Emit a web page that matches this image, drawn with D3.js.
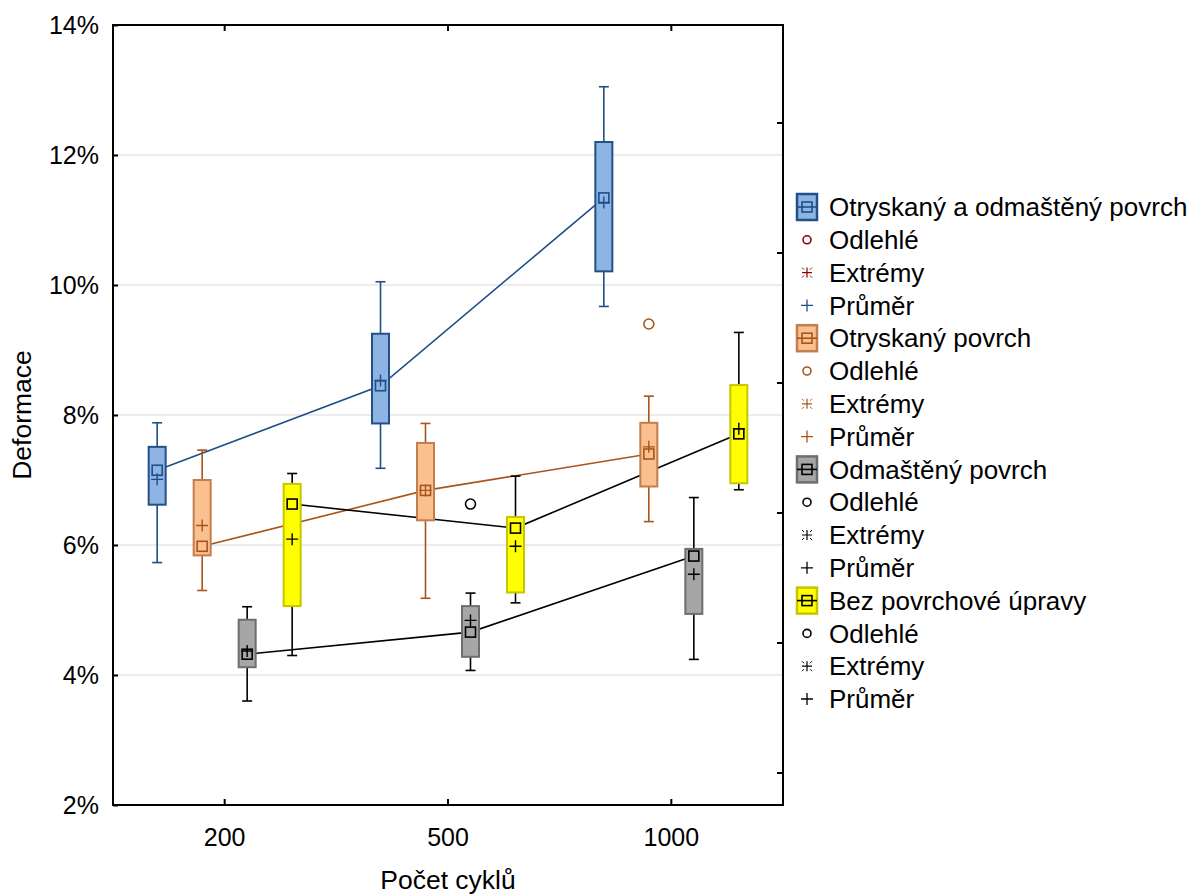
<!DOCTYPE html>
<html>
<head>
<meta charset="utf-8">
<script src="https://cdn.jsdelivr.net/npm/d3@7"></script>
<style>
  body { margin: 0; background: #fff; }
  svg { font-family: "Liberation Sans", Arial, sans-serif; }
  .tick-label { font-size: 25px; }
  .legend text { font-size: 26px; }
</style>
</head>
<body>
<script>
const categories = ['200', '500', '1000'];
const series = ['Otryskaný a odmaštěný povrch', 'Otryskaný povrch', 'Odmaštěný povrch', 'Bez povrchové úpravy'];

// rows = series, columns = categories (values in %)
const whiskerLow = [
  [5.73, 7.18, 9.67],
  [5.30, 5.18, 6.36],
  [3.60, 4.07, 4.24],
  [4.30, 5.11, 6.85]
];
const boxLow = [
  [6.62, 7.87, 10.21],
  [5.84, 6.38, 6.90],
  [4.12, 4.28, 4.94],
  [5.06, 5.27, 6.95]
];
const medians = [
  [7.15, 8.45, 11.34],
  [5.98, 6.84, 7.40],
  [4.32, 4.66, 5.83],
  [6.63, 6.26, 7.71]
];
const boxHigh = [
  [7.51, 9.25, 12.20],
  [7.00, 7.57, 7.88],
  [4.85, 5.06, 5.94],
  [6.94, 6.43, 8.46]
];
const whiskerHigh = [
  [7.88, 10.05, 13.05],
  [7.46, 7.87, 8.29],
  [5.05, 5.26, 6.73],
  [7.10, 7.06, 9.27]
];
const means = [
  [7.01, 8.53, 11.27],
  [6.30, 6.84, 7.51],
  [4.37, 4.84, 5.55],
  [6.09, 5.98, 7.79]
];
const outlierSeries = [1, 2];
const outlierCats = ['1000', '500'];
const outlierValues = [9.40, 6.63];

const yTicks = [2, 4, 6, 8, 10, 12, 14];
const rightTicks = [2.5, 4.5, 6.5, 8.5, 10.5, 12.5];

const fills = ['#8DB4E2', '#FAC08F', '#A6A6A6', '#FFFF00'];
const strokes = ['#24508A', '#C27E4C', '#6E6E6E', '#C6C600'];
const lineCols = ['#1F4E89', '#A9541A', '#000000', '#000000'];
const outCols = ['#8B0000', '#A9541A', '#000000', '#000000'];

const width = 1191, height = 895;
const mLeft = 113, mRight = 783, mTop = 25, mBottom = 805;

const svg = d3.select('body').append('svg')
  .attr('width', width)
  .attr('height', height);

const x = d3.scaleBand().domain(categories).range([mLeft, mRight]);
const xs = d3.scalePoint().domain(d3.range(series.length)).range([-67.5, 67.5]);
const y = d3.scaleLinear().domain([2, 14]).range([mBottom, mTop]);
const cx = (s, c) => x(categories[c]) + x.bandwidth() / 2 + xs(s);

// gridlines
svg.append('g')
  .selectAll('line')
  .data(yTicks.filter(d => d > 2 && d < 14))
  .enter().append('line')
  .attr('x1', mLeft).attr('x2', mRight)
  .attr('y1', d => y(d)).attr('y2', d => y(d))
  .attr('stroke', '#d9d9d9').attr('stroke-width', 1);

// axes
const yAxis = d3.axisRight(y).tickValues(yTicks).tickSize(5).tickFormat('');
svg.append('g').attr('transform', 'translate(' + mLeft + ',0)').call(yAxis)
  .call(g => g.select('.domain').remove())
  .selectAll('line').attr('stroke', '#000').attr('stroke-width', 2);

svg.append('g').attr('class', 'tick-label')
  .selectAll('text')
  .data(yTicks)
  .enter().append('text')
  .attr('x', mLeft - 14)
  .attr('y', d => y(d))
  .attr('dy', '0.35em')
  .attr('text-anchor', 'end')
  .text(d => d + '%');

const rAxis = d3.axisLeft(y).tickValues(rightTicks).tickSize(6).tickFormat('');
svg.append('g').attr('transform', 'translate(' + mRight + ',0)').call(rAxis)
  .call(g => g.select('.domain').remove())
  .selectAll('line').attr('stroke', '#000').attr('stroke-width', 2);

const xb = d3.axisTop(x).tickSize(6).tickFormat('');
svg.append('g').attr('transform', 'translate(0,' + mBottom + ')').call(xb)
  .call(g => g.select('.domain').remove())
  .selectAll('line').attr('stroke', '#000').attr('stroke-width', 2);
const xt = d3.axisBottom(x).tickSize(6).tickFormat('');
svg.append('g').attr('transform', 'translate(0,' + mTop + ')').call(xt)
  .call(g => g.select('.domain').remove())
  .selectAll('line').attr('stroke', '#000').attr('stroke-width', 2);

svg.append('g').attr('class', 'tick-label')
  .selectAll('text')
  .data(categories)
  .enter().append('text')
  .attr('x', d => x(d) + x.bandwidth() / 2)
  .attr('y', mBottom + 32)
  .attr('dy', '0.35em')
  .attr('text-anchor', 'middle')
  .text(d => d);

svg.append('rect')
  .attr('x', mLeft).attr('y', mTop)
  .attr('width', mRight - mLeft).attr('height', mBottom - mTop)
  .attr('fill', 'none').attr('stroke', '#000').attr('stroke-width', 2);

svg.append('text')
  .attr('x', (mLeft + mRight) / 2)
  .attr('y', 889)
  .attr('text-anchor', 'middle')
  .style('font-size', '26.5px')
  .text('Počet cyklů');

svg.append('text')
  .attr('transform', 'rotate(-90)')
  .attr('x', -415)
  .attr('y', 31)
  .attr('text-anchor', 'middle')
  .style('font-size', '26.5px')
  .text('Deformace');

// median lines
series.forEach((name, s) => {
  const line = d3.line()
    .x((d, c) => cx(s, c))
    .y(d => y(d));
  svg.append('path')
    .datum(medians[s])
    .attr('d', line)
    .attr('fill', 'none')
    .attr('stroke', lineCols[s])
    .attr('stroke-width', 1.6);
});

function plusPath(px, py, r) {
  return 'M' + (px - r) + ',' + py + 'H' + (px + r) + 'M' + px + ',' + (py - r) + 'V' + (py + r);
}

// boxes
series.forEach((name, s) => {
  const g = svg.append('g');
  categories.forEach((cat, c) => {
    const px = cx(s, c);
    // whiskers
    g.append('line')
      .attr('x1', px).attr('x2', px)
      .attr('y1', y(whiskerHigh[s][c])).attr('y2', y(boxHigh[s][c]))
      .attr('stroke', lineCols[s]).attr('stroke-width', 1.6);
    g.append('line')
      .attr('x1', px).attr('x2', px)
      .attr('y1', y(boxLow[s][c])).attr('y2', y(whiskerLow[s][c]))
      .attr('stroke', lineCols[s]).attr('stroke-width', 1.6);
    [whiskerHigh[s][c], whiskerLow[s][c]].forEach(v => {
      g.append('line')
        .attr('x1', px - 5).attr('x2', px + 5)
        .attr('y1', y(v)).attr('y2', y(v))
        .attr('stroke', lineCols[s]).attr('stroke-width', 1.6);
    });
    g.append('rect')
      .attr('x', px - 8.5)
      .attr('y', y(boxHigh[s][c]))
      .attr('width', 17)
      .attr('height', y(boxLow[s][c]) - y(boxHigh[s][c]))
      .attr('fill', fills[s])
      .attr('stroke', strokes[s])
      .attr('stroke-width', 2);
  });
});

// median squares and means drawn above lines and boxes
series.forEach((name, s) => {
  categories.forEach((cat, c) => {
    const px = cx(s, c);
    svg.append('rect')
      .attr('x', px - 5).attr('y', y(medians[s][c]) - 5)
      .attr('width', 10).attr('height', 10)
      .attr('fill', 'none')
      .attr('stroke', lineCols[s]).attr('stroke-width', 1.6);
    svg.append('path')
      .attr('d', plusPath(px, y(means[s][c]), 6))
      .attr('stroke', lineCols[s]).attr('stroke-width', 1.4);
  });
});

// outliers
svg.append('g')
  .selectAll('circle')
  .data(outlierValues)
  .enter().append('circle')
  .attr('cx', (d, i) => cx(outlierSeries[i], categories.indexOf(outlierCats[i])))
  .attr('cy', d => y(d))
  .attr('r', 5)
  .attr('fill', 'none')
  .attr('stroke', (d, i) => outCols[outlierSeries[i]])
  .attr('stroke-width', 1.6);

// legend
const legend = svg.append('g').attr('class', 'legend');
const rowH = 32.8, row0 = 207, symX = 807, textX = 829;
const labels = [];
series.forEach((name, s) => {
  labels.push({ kind: 'box', s: s, text: name });
  labels.push({ kind: 'out', s: s, text: 'Odlehlé' });
  labels.push({ kind: 'ext', s: s, text: 'Extrémy' });
  labels.push({ kind: 'mean', s: s, text: 'Průměr' });
});

labels.forEach((d, i) => {
  const cy = row0 + i * rowH;
  const g = legend.append('g');
  if (d.kind === 'box') {
    g.append('rect')
      .attr('x', symX - 10).attr('y', cy - 13)
      .attr('width', 20).attr('height', 26)
      .attr('fill', fills[d.s]).attr('stroke', strokes[d.s]).attr('stroke-width', 2.5);
    g.append('rect')
      .attr('x', symX - 5).attr('y', cy - 5)
      .attr('width', 10).attr('height', 10)
      .attr('fill', 'none').attr('stroke', lineCols[d.s]).attr('stroke-width', 1.6);
    g.append('line')
      .attr('x1', symX - 10).attr('x2', symX + 10)
      .attr('y1', cy).attr('y2', cy)
      .attr('stroke', lineCols[d.s]).attr('stroke-width', 1.6);
  } else if (d.kind === 'out') {
    g.append('circle')
      .attr('cx', symX).attr('cy', cy).attr('r', 4)
      .attr('fill', 'none').attr('stroke', outCols[d.s]).attr('stroke-width', 1.6);
  } else if (d.kind === 'ext') {
    g.append('path')
      .attr('d', plusPath(symX, cy, 5))
      .attr('stroke', outCols[d.s]).attr('stroke-width', 1.2);
    g.append('path')
      .attr('d', 'M' + (symX - 5) + ',' + (cy - 5) + 'l2,2M' + (symX + 5) + ',' + (cy - 5) + 'l-2,2M' +
        (symX - 5) + ',' + (cy + 5) + 'l2,-2M' + (symX + 5) + ',' + (cy + 5) + 'l-2,-2')
      .attr('stroke', outCols[d.s]).attr('stroke-width', 1);
  } else {
    g.append('path')
      .attr('d', plusPath(symX, cy, 6))
      .attr('stroke', lineCols[d.s]).attr('stroke-width', 1.3);
  }
  g.append('text')
    .attr('x', textX)
    .attr('y', cy)
    .attr('dy', '0.35em')
    .text(d.text);
});
</script>
</body>
</html>
